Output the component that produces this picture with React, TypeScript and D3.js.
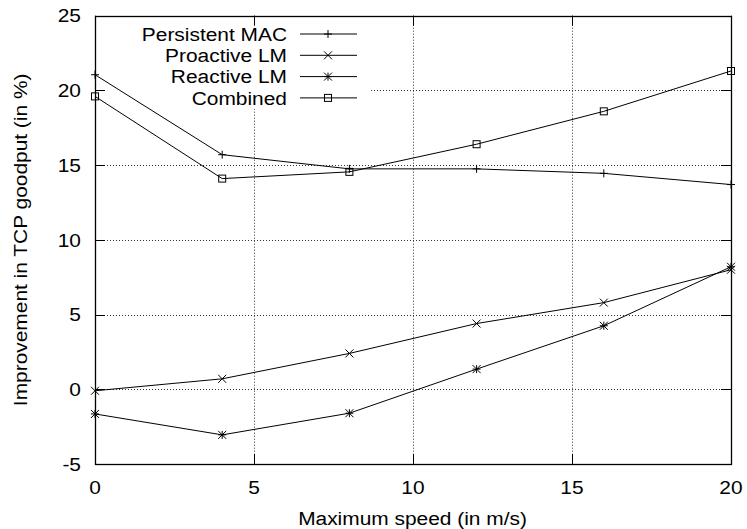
import React from "react";
import * as d3 from "d3";

const speeds = [0, 4, 8, 12, 16, 20];
const persistentMAC = [21.05, 15.7, 14.75, 14.75, 14.45, 13.7];
const proactiveLM = [-0.1, 0.7, 2.4, 4.4, 5.8, 8.0];
const reactiveLM = [-1.65, -3.05, -1.6, 1.35, 4.25, 8.2];
const combined = [19.6, 14.1, 14.55, 16.4, 18.6, 21.3];

const seriesNames = ["Persistent MAC", "Proactive LM", "Reactive LM", "Combined"];
const seriesMarkers = ["plus", "cross", "star", "square"];
const xTicks = [0, 5, 10, 15, 20];
const yTicks = [-5, 0, 5, 10, 15, 20, 25];

const W = 747;
const H = 529;
const M = { left: 95, right: 731, top: 15.7, bottom: 464 };
const FONT = "'Liberation Sans', Arial, Helvetica, sans-serif";
const FS = 19;
const SX = 1.1;

function Label({
  x,
  y,
  anchor,
  rotate = 0,
  children,
}: {
  x: number;
  y: number;
  anchor: "start" | "middle" | "end";
  rotate?: number;
  children: React.ReactNode;
}) {
  return (
    <text
      transform={`translate(${x},${y}) rotate(${rotate}) scale(${SX},1)`}
      textAnchor={anchor}
      dominantBaseline="central"
      fontFamily={FONT}
      fontSize={FS}
      fill="#000"
    >
      {children}
    </text>
  );
}

function Marker({ kind, x, y }: { kind: string; x: number; y: number }) {
  const s = 4;
  const st = { stroke: "#000", strokeWidth: 1, fill: "none" } as const;
  if (kind === "plus") {
    return <path d={`M${x - s},${y}H${x + s}M${x},${y - s}V${y + s}`} {...st} />;
  }
  if (kind === "cross") {
    return <path d={`M${x - s},${y - s}L${x + s},${y + s}M${x - s},${y + s}L${x + s},${y - s}`} {...st} />;
  }
  if (kind === "star") {
    return (
      <path
        d={`M${x - s},${y}H${x + s}M${x},${y - s}V${y + s}M${x - s},${y - s}L${x + s},${y + s}M${x - s},${y + s}L${x + s},${y - s}`}
        {...st}
      />
    );
  }
  return <rect x={x - 3.5} y={y - 3.5} width={7} height={7} {...st} />;
}

export default function App() {
  const x = d3.scaleLinear().domain([0, 20]).range([M.left, M.right]);
  const y = d3.scaleLinear().domain([-5, 25]).range([M.bottom, M.top]);
  const allSeries = [persistentMAC, proactiveLM, reactiveLM, combined];
  const line = d3
    .line<number>()
    .x((_, i) => x(speeds[i]))
    .y((d) => y(d));
  const tick = 10;
  const legendX = 287;
  const legendY0 = 34;
  const legendDy = 21.3;

  return (
    <svg width={W} height={H} style={{ position: "absolute", left: 0, top: 0, background: "#fff" }}>
      <rect x={0} y={0} width={W} height={H} fill="#fff" />
      {/* grid */}
      <g stroke="#333" strokeWidth={1} strokeDasharray="1,2">
        {yTicks.slice(1, -1).map((t) => (
          <line key={"gy" + t} x1={M.left} x2={M.right} y1={Math.round(y(t)) + 0.5} y2={Math.round(y(t)) + 0.5} />
        ))}
        {xTicks.slice(1, -1).map((t) => (
          <line key={"gx" + t} x1={Math.round(x(t)) + 0.5} x2={Math.round(x(t)) + 0.5} y1={M.top} y2={M.bottom} />
        ))}
      </g>
      {/* legend background */}
      <rect x={M.left + 1} y={M.top + 1} width={370 - M.left} height={92} fill="#fff" />
      {/* ticks */}
      <g stroke="#000" strokeWidth={1}>
        {yTicks.map((t) => {
          const yy = Math.round(y(t)) + 0.5;
          return (
            <g key={"ty" + t}>
              <line x1={M.left} x2={M.left + tick} y1={yy} y2={yy} />
              <line x1={M.right - tick} x2={M.right} y1={yy} y2={yy} />
            </g>
          );
        })}
        {xTicks.map((t) => {
          const xx = Math.round(x(t)) + 0.5;
          return (
            <g key={"tx" + t}>
              <line x1={xx} x2={xx} y1={M.bottom} y2={M.bottom - tick} />
              <line x1={xx} x2={xx} y1={M.top} y2={M.top + tick} />
            </g>
          );
        })}
      </g>
      {/* tick labels */}
      {yTicks.map((t) => (
        <Label key={"ly" + t} x={81} y={y(t)} anchor="end">
          {t}
        </Label>
      ))}
      {xTicks.map((t) => (
        <Label key={"lx" + t} x={x(t)} y={487} anchor="middle">
          {t}
        </Label>
      ))}
      {/* axis labels */}
      <Label x={(M.left + M.right) / 2 - 0.5} y={518} anchor="middle">
        Maximum speed (in m/s)
      </Label>
      <Label x={20} y={(M.top + M.bottom) / 2} anchor="middle" rotate={-90}>
        Improvement in TCP goodput (in %)
      </Label>
      {/* series */}
      {allSeries.map((s, si) => (
        <g key={"s" + si}>
          <path d={line(s) || ""} fill="none" stroke="#000" strokeWidth={1} />
          {s.map((v, i) => (
            <Marker key={i} kind={seriesMarkers[si]} x={x(speeds[i])} y={y(v)} />
          ))}
        </g>
      ))}
      {/* legend */}
      {seriesNames.map((n, i) => {
        const ly = legendY0 + i * legendDy;
        return (
          <g key={"lg" + i}>
            <Label x={legendX} y={ly} anchor="end">
              {n}
            </Label>
            <line x1={300} x2={357} y1={ly} y2={ly} stroke="#000" strokeWidth={1} />
            <Marker kind={seriesMarkers[i]} x={328} y={ly} />
          </g>
        );
      })}
      {/* border */}
      <rect
        x={M.left + 0.5}
        y={Math.round(M.top) + 0.5}
        width={M.right - M.left}
        height={Math.round(M.bottom) - Math.round(M.top)}
        fill="none"
        stroke="#000"
        strokeWidth={1.3}
      />
    </svg>
  );
}
